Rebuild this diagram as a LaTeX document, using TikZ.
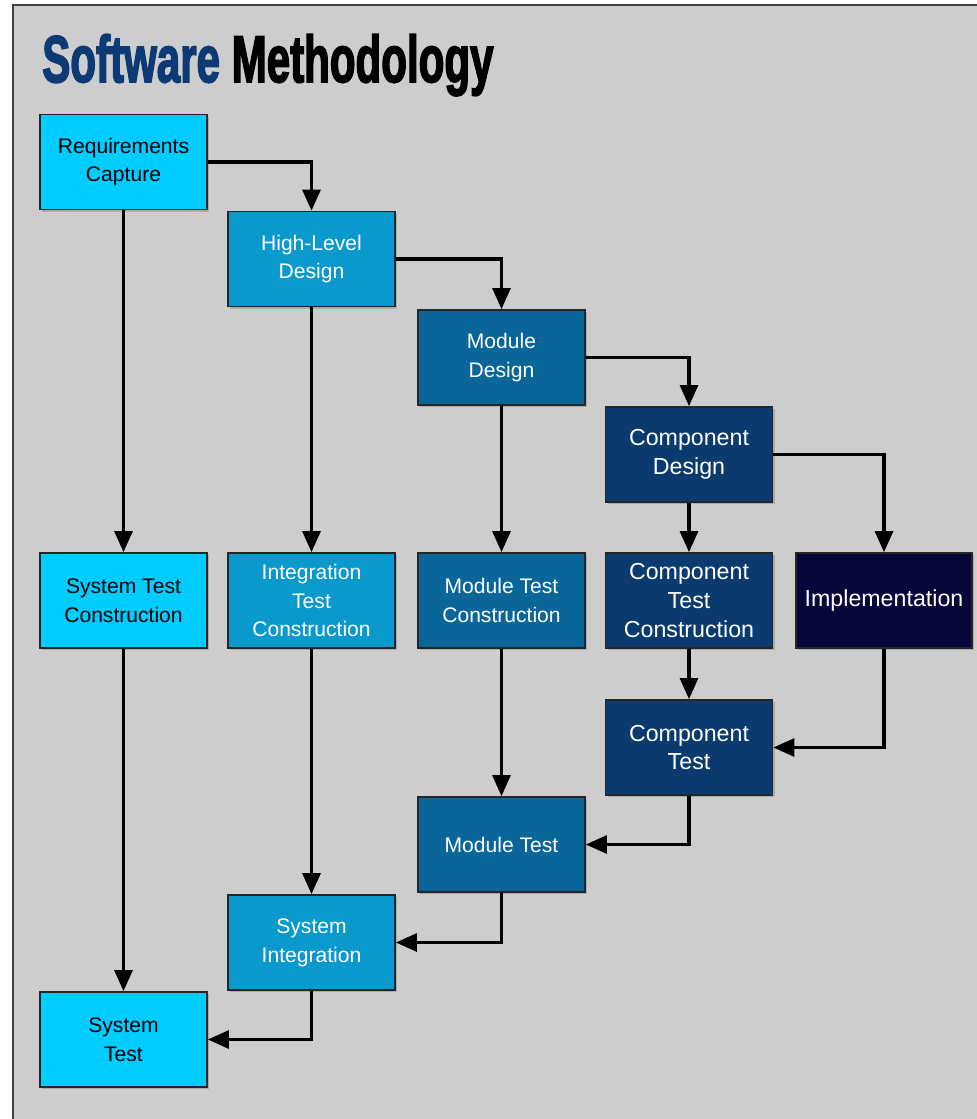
\documentclass[tikz,border=0pt]{standalone}
\usepackage{fontspec}
\setmainfont{Liberation Sans}
\newfontfamily\titlefont{Liberation Sans}[BoldFeatures={FakeBold=3}]
\usetikzlibrary{arrows.meta,shadows}
\definecolor{bggray}{HTML}{CDCDCD}
\definecolor{lvlA}{HTML}{00CCFF}
\definecolor{lvlB}{HTML}{0A99CC}
\definecolor{lvlC}{HTML}{0A6699}
\definecolor{lvlD}{HTML}{0B3A6E}
\definecolor{lvlE}{HTML}{06063A}
\definecolor{titleblue}{HTML}{0B3A75}
\tikzset{
  box/.style={draw=black!85, line width=1pt, minimum width=167*0.025cm,
    minimum height=95*0.025cm, inner sep=0pt, align=center, text=white,
    font=\fontsize{15}{20.5}\selectfont,
    drop shadow={shadow xshift=1.5pt, shadow yshift=-1.5pt, opacity=0.45}},
  bigtext/.style={font=\fontsize{16.5}{20.5}\selectfont},
  link/.style={->, line width=2.8pt}
}
\begin{document}
\begin{tikzpicture}[x=0.025cm, y=-0.025cm, >={Triangle[length=15pt,width=12.5pt]}]
\useasboundingbox (0,0) rectangle (977,1119);
% frame
\fill[white] (0,0) rectangle (977,1119);
\fill[bggray] (13,5) rectangle (977,1119);
\draw[black!75, line width=2pt] (13,1119) -- (13,5) -- (977,5);
% title
\node[anchor=base west, inner sep=0pt] (title) at (42,82)
  {\scalebox{0.665}[1.04]{\fontsize{45}{50}\titlefont\bfseries
   \textcolor{titleblue}{Software} Methodology}};
% boxes
\node[box, fill=lvlA, text=black] (RC) at (123.5,162) {Requirements\\Capture};
\node[box, fill=lvlB] (HLD) at (311.5,259) {High-Level\\Design};
\node[box, fill=lvlC] (MD) at (501.5,357.5) {Module\\Design};
\node[box, fill=lvlD, bigtext] (CD) at (689,454.5) {Component\\Design};
\node[box, fill=lvlA, text=black] (STC) at (123.5,600.5) {System Test\\Construction};
\node[box, fill=lvlB] (ITC) at (311.5,600.5) {Integration\\Test\\Construction};
\node[box, fill=lvlC] (MTC) at (501.5,600.5) {Module Test\\Construction};
\node[box, fill=lvlD, bigtext] (CTC) at (689,600.5) {Component\\Test\\Construction};
\node[box, fill=lvlE, bigtext, minimum width=176*0.025cm] (IMP) at (884,600.5) {Implementation};
\node[box, fill=lvlD, bigtext] (CT) at (689,747.5) {Component\\Test};
\node[box, fill=lvlC] (MT) at (501.5,844.5) {Module Test};
\node[box, fill=lvlB] (SI) at (311.5,942.5) {System\\Integration};
\node[box, fill=lvlA, text=black] (ST) at (123.5,1039.5) {System\\Test};
% arrows
\foreach \a/\b in {RC/HLD,HLD/MD,MD/CD,CD/IMP}
  \draw[link] (\a.east) -| (\b.north);
\foreach \a/\b in {RC/STC,HLD/ITC,MD/MTC,CD/CTC,CTC/CT,STC/ST,ITC/SI,MTC/MT}
  \draw[link] (\a.south) -- (\b.north);
\foreach \a/\b in {IMP/CT,CT/MT,MT/SI,SI/ST}
  \draw[link] (\a.south) |- (\b.east);
\end{tikzpicture}
\end{document}
